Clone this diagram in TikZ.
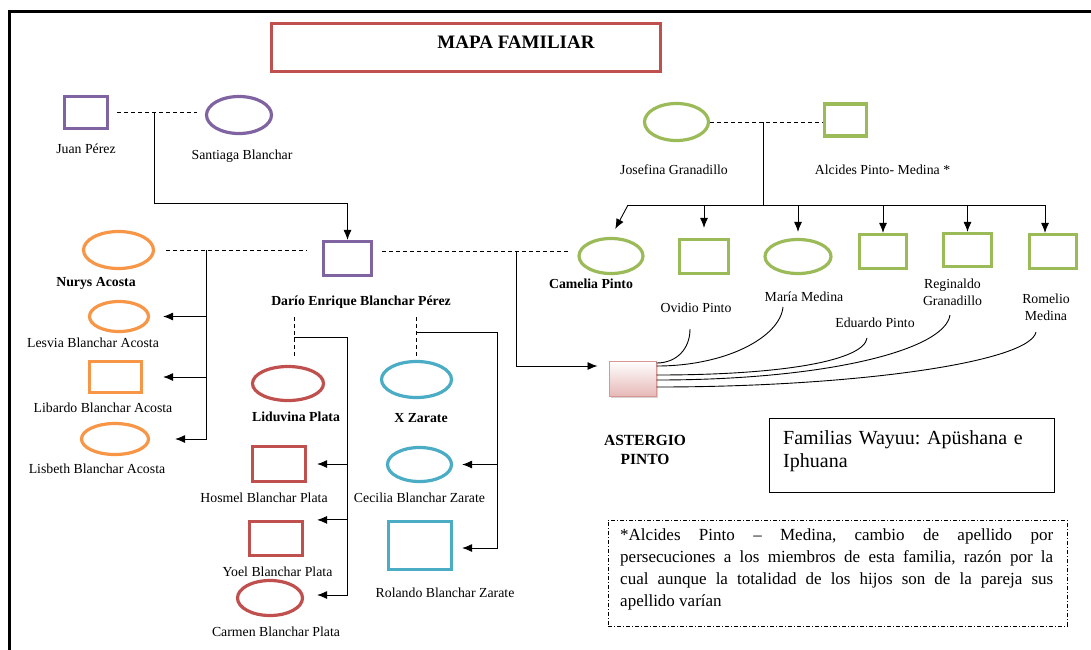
\documentclass[tikz,border=0pt]{standalone}
\usepackage{fontspec}
\setmainfont{Liberation Serif}
\usetikzlibrary{shapes.geometric,shadows,arrows.meta}

\definecolor{rojo}{HTML}{C0504D}
\definecolor{morado}{HTML}{8064A2}
\definecolor{verde}{HTML}{9BBB59}
\definecolor{naranja}{HTML}{F79646}
\definecolor{celeste}{HTML}{4BACC6}
\definecolor{rosa}{HTML}{E6B9B8}

\newcommand{\nomfont}{\fontsize{13.8}{17}\selectfont}
\newcommand{\titfont}{\fontsize{19}{22}\selectfont\bfseries}

\begin{document}
\begin{tikzpicture}[x = 1pt, y = -1pt, > = {Latex[length=10pt, width=8pt]},
	hombre/.style = {draw = #1, line width = 3.2pt, inner sep = 0pt},
	mujer/.style = {ellipse, draw = #1, line width = 3.2pt, inner sep = 0pt},
	nombre/.style = {font = \nomfont, inner sep = 1pt, align = center},
	nombreb/.style = {font = \nomfont\bfseries, inner sep = 1pt, align = center},
	pareja/.style = {dash pattern = on 4pt off 3pt, line width = 0.8pt},
	hijo/.style = {->, line width = 0.9pt},
	rama/.style = {line width = 0.9pt}]

	\useasboundingbox (0, 0) rectangle (1091, 649);

	% Frame and title

	\draw [line width = 3pt] (9, 660) -- (9, 11) -- (1100, 11);

	\node [draw = rojo, line width = 3pt, minimum width = 389pt, minimum height = 48pt] (marco) at (466, 47.5) {};
	\node [font = \titfont] (titulo) at (516, 42) {MAPA FAMILIAR};

	% Perez - Blanchar

	\node [hombre = morado, minimum width = 43pt, minimum height = 32pt] (juan) at (86, 112.5) {};
	\node [mujer = morado, minimum width = 65pt, minimum height = 37pt] (santiaga) at (239, 115) {};
	\node [nombre] (juanl) at (86, 149) {Juan Pérez};
	\node [nombre] (santiagal) at (242, 156) {Santiaga Blanchar};

	\draw [pareja] ([xshift = 8pt]juan.east) -- ([xshift = -8pt]juan.east -| santiaga.west);
	\coordinate (pb) at (154, 112.5);

	% Dario Enrique

	\node [hombre = morado, minimum width = 48pt, minimum height = 34pt] (dario) at (347.5, 258.5) {};
	\node [nombreb] (dariol) at (361, 302) {Darío Enrique Blanchar Pérez};

	\draw [hijo] (pb) -- ++(0, 90.5) -| (dario.north);

	% Acosta family

	\node [mujer = naranja, minimum width = 70pt, minimum height = 37pt] (nurys) at (118.5, 250) {};
	\node [mujer = naranja, minimum width = 59pt, minimum height = 30pt] (lesvia) at (119, 316.5) {};
	\node [hombre = naranja, minimum width = 52pt, minimum height = 31pt] (libardo) at (115.5, 377) {};
	\node [mujer = naranja, minimum width = 67pt, minimum height = 31pt] (lisbeth) at (115, 439) {};

	\node [nombreb] (nurysl) at (96, 283) {Nurys Acosta};
	\node [nombre] (lesvial) at (93, 343) {Lesvia Blanchar Acosta};
	\node [nombre] (libardol) at (103, 408) {Libardo Blanchar Acosta};
	\node [nombre] (lisbethl) at (97, 469) {Lisbeth Blanchar Acosta};

	\draw [pareja] ([xshift = 11pt]nurys.east) -- ([xshift = -15pt]nurys.east -| dario.west);
	\coordinate (na) at (206, 250);
	\draw [hijo, shorten > = 25pt] (na) |- (lisbeth.east);
	\draw [hijo, shorten > = 13pt] (na |- lesvia.east) -- (lesvia.east);
	\draw [hijo, shorten > = 20pt] (na |- libardo.east) -- (libardo.east);

	% Plata family

	\node [mujer = rojo, minimum width = 71pt, minimum height = 34pt] (liduvina) at (288, 383.5) {};
	\node [hombre = rojo, minimum width = 53pt, minimum height = 35pt] (hosmel) at (279, 464) {};
	\node [hombre = rojo, minimum width = 53pt, minimum height = 34pt] (yoel) at (276, 538.5) {};
	\node [mujer = rojo, minimum width = 65pt, minimum height = 35pt] (carmen) at (270, 598) {};

	\node [nombreb] (liduvinal) at (296, 417) {Liduvina Plata};
	\node [nombre] (hosmell) at (264, 498) {Hosmel Blanchar Plata};
	\node [nombre] (yoell) at (277.5, 572) {Yoel Blanchar Plata};
	\node [nombre] (carmenl) at (276, 632) {Carmen Blanchar Plata};

	\coordinate (dp1) at (294, 317);
	\coordinate (dh1) at (294, 337);
	\coordinate (bus1) at (347, 337);
	\draw [pareja, shorten > = 8pt] (dp1) -- (dp1 |- liduvina.north);
	\draw [hijo, shorten > = 13pt] (dh1) -- (bus1) |- ([yshift = 3pt]carmen.east);
	\draw [hijo, shorten > = 10pt] (bus1 |- hosmel.east) -- (hosmel.east);
	\draw [hijo, shorten > = 13pt] (bus1 |- yoel.north east) -- (yoel.north east);

	% Zarate family

	\node [mujer = celeste, minimum width = 70pt, minimum height = 36pt] (xzarate) at (416.5, 379.5) {};
	\node [mujer = celeste, minimum width = 64pt, minimum height = 34pt] (cecilia) at (419.5, 464.5) {};
	\node [hombre = celeste, minimum width = 63pt, minimum height = 48pt] (rolando) at (420, 545.5) {};

	\node [nombreb] (xzaratel) at (421, 418) {X Zarate};
	\node [nombre] (cecilial) at (419.5, 498) {Cecilia Blanchar Zarate};
	\node [nombre] (rolandol) at (445, 593) {Rolando Blanchar Zarate};

	\coordinate (dp2) at (416, 317);
	\coordinate (dh2) at (416, 332);
	\coordinate (bus2) at (497, 332);
	\draw [pareja, shorten > = 3pt] (dp2) -- (dp2 |- xzarate.north);
	\draw [hijo, shorten > = 9pt] (dh2) -- (bus2) |- ([yshift = -2.5pt]rolando.east);
	\draw [hijo, shorten > = 9pt] (bus2 |- cecilia.east) -- (cecilia.east);

	% Pinto family

	\node [mujer = verde, minimum width = 64pt, minimum height = 37pt] (josefina) at (676.5, 122) {};
	\node [hombre = verde, minimum width = 42pt, minimum height = 32pt] (alcides) at (845.5, 120) {};
	\node [nombre] (josefinal) at (674, 170) {Josefina Granadillo};
	\node [nombre] (alcidesl) at (882.5, 170) {Alcides Pinto- Medina *};

	\node [mujer = verde, minimum width = 64pt, minimum height = 35pt] (camelia) at (611, 256) {};
	\node [hombre = verde, minimum width = 49pt, minimum height = 34pt] (ovidio) at (704, 256.5) {};
	\node [mujer = verde, minimum width = 66pt, minimum height = 34pt] (maria) at (798, 256.5) {};
	\node [hombre = verde, minimum width = 47pt, minimum height = 34pt] (eduardo) at (883, 251.5) {};
	\node [hombre = verde, minimum width = 48pt, minimum height = 33pt] (reginaldo) at (967.5, 250) {};
	\node [hombre = verde, minimum width = 47pt, minimum height = 34pt] (romelio) at (1053, 251.5) {};

	\node [nombreb] (camelial) at (591, 284) {Camelia Pinto};
	\node [nombre] (ovidiol) at (696, 308) {Ovidio Pinto};
	\node [nombre] (marial) at (804, 297) {María Medina};
	\node [nombre] (eduardol) at (875, 323) {Eduardo Pinto};
	\node [nombre, text depth = 0pt] (reginaldol) at (952.5, 292) {Reginaldo\\Granadillo};
	\node [nombre, text depth = 0pt] (romeliol) at (1046, 307) {Romelio\\Medina};

	\draw [pareja] (josefina.east) -- (josefina.east -| alcides.west);
	\coordinate (ja) at (763, 122);
	\coordinate (bus3) at (763, 205);
	\coordinate (lb) at (628, 205);
	\coordinate (rb) at (1045, 205);
	\draw [rama] (ja) -- (bus3);
	\draw [rama] (lb) -- (rb);
	\draw [hijo, shorten > = 9pt] (lb) -- (camelia.north);
	\draw [hijo, shorten > = 10pt] (lb -| ovidio.north) -- (ovidio.north);
	\draw [hijo, shorten > = 6pt] (lb -| maria.north) -- (maria.north);
	\draw [hijo] (lb -| eduardo.north) -- (eduardo.north);
	\draw [hijo] (lb -| reginaldo.north) -- (reginaldo.north);
	\draw [hijo] (rb) -- ([xshift = -8pt]romelio.north);

	% Astergio Pinto

	\node [draw = rojo!60, line width = 1pt, top color = white, bottom color = rosa,
		minimum width = 47pt, minimum height = 35pt,
		drop shadow = {shadow xshift = 2pt, shadow yshift = -2pt, opacity = 0.35}] (astergio) at (632.5, 378.5) {};
	\node [font = \fontsize{15.5}{19}\selectfont\bfseries, align = center] (astergiol) at (645, 450) {ASTERGIO\\PINTO};

	\coordinate (dd) at ([xshift = 9pt, yshift = 7.5pt]dario.east);
	\coordinate (dc) at (516, 251);
	\draw [pareja, shorten > = 9pt] (dd) -- (dd -| camelia.west);
	\draw [hijo, shorten > = 11pt] (dc) |- ([yshift = 12.5pt]astergio.west);

	\coordinate (ovc) at (690, 329);
	\coordinate (mac) at (783, 307);
	\coordinate (edc) at (867, 338);
	\coordinate (rec) at (950, 315);
	\coordinate (roc) at (1036, 332);
	\draw [rama] ([yshift = 15.5pt]astergio.east) .. controls +(20, 0) and +(0, 20) .. (ovc);
	\draw [rama] ([yshift = 12.5pt]astergio.east) .. controls +(70, 0) and +(-3, 30) .. (mac);
	\draw [rama] ([yshift = 3.5pt]astergio.east) .. controls +(130, 0) and +(-3, 22) .. (edc);
	\draw [rama] ([yshift = -1.5pt]astergio.east) .. controls +(170, 0) and +(-5, 35) .. (rec);
	\draw [rama] ([yshift = -8.5pt]astergio.east) .. controls +(200, 0) and +(-6, 30) .. (roc);

	% Notes

	\node [draw, line width = 1.2pt, minimum width = 284.5pt, minimum height = 73.5pt] (wayuu) at (912, 455.5) {};
	\node [anchor = north west, inner sep = 0pt, text width = 262pt, align = left,
		font = \fontsize{20}{23}\selectfont] (wayuut) at (783, 430) {\frenchspacing Familias Wayuu: Apüshana e Iphuana};

	\node [draw, dash pattern = on 4pt off 2pt on 1pt off 2pt, line width = 0.8pt,
		minimum width = 459pt, minimum height = 106pt] (nota) at (837.5, 573) {};
	\node [anchor = north west, inner sep = 0pt, text width = 433pt, align = justify,
		font = \fontsize{17}{22.3}\selectfont] (notat) at (620, 528)
		{\hyphenpenalty=10000 \tolerance=10000 \frenchspacing
		*Alcides Pinto -- Medina, cambio de apellido por\linebreak
		persecuciones a los miembros de esta familia, razón por la\linebreak
		cual aunque la totalidad de los hijos son de la pareja sus\linebreak
		apellido varían};

\end{tikzpicture}
\end{document}
